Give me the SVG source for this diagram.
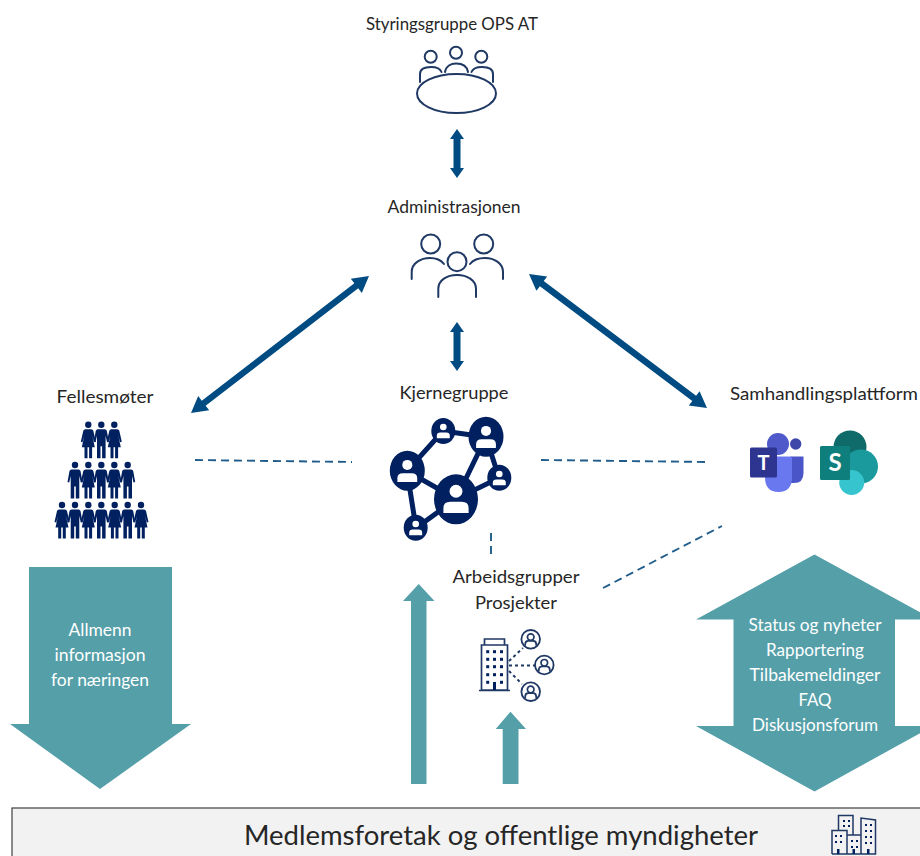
<svg xmlns="http://www.w3.org/2000/svg" width="920" height="856" viewBox="0 0 920 856">
<style>
text{font-family:Lato,"Open Sans","Liberation Sans",sans-serif;font-size:18px;fill:#262626;text-anchor:middle}
.w{fill:#fff}
.ln{fill:none;stroke:#1f3864;stroke-width:2;stroke-linecap:round}
.ln3{fill:none;stroke:#1f3864;stroke-width:1.7}
.teal{fill:#559fa9}
.dbl{fill:#004b82}
.dash{fill:none;stroke:#1f5c8b;stroke-width:1.9;stroke-dasharray:8 5}
.edge{stroke:#002060;stroke-width:5;fill:none}
.nv{fill:#002060}
</style>
<defs>
<g id="man" class="nv"><circle cx="0" cy="0" r="3.200"/><path d="M-3.500 4.500H3.500Q5 4.500 5.500 6L7.500 17L5.800 17.600L4.300 11V20.500L4.300 33.500H.8V21.500H-.8V33.500H-4.300V20.500L-4.300 11L-5.800 17.600L-7.500 17L-5.500 6Q-5 4.500-3.500 4.500Z"/></g>
<g id="wom" class="nv"><circle cx="0" cy="0" r="3.200"/><path d="M-3 4.500H3Q4.500 4.500 5 6L7.500 17L5.800 17.600L4 11L6.500 22.500H3.800V33.500H.8V22.500H-.8V33.500H-3.800V22.500H-6.500L-4 11L-5.800 17.600L-7.500 17L-5 6Q-4.500 4.500-3 4.500Z"/></g>
<g id="u"><circle cx="0" cy="-5.500" r="4.600" class="w"/><path class="w" d="M-9 10V6.500Q-9 2-4 2H4Q9 2 9 6.500V10Z"/></g>
<g id="cu"><circle r="9.300" fill="#fff" stroke="#1f3864" stroke-width="1.800"/><circle cy="-2.200" r="3.300" fill="none" stroke="#1f3864" stroke-width="1.700"/><path d="M-5.500 6.500V5Q-5.500 1.500-2.500 1.500H2.500Q5.500 1.500 5.500 5V6.500" fill="none" stroke="#1f3864" stroke-width="1.700"/></g>
</defs>
<g id="connectors">
<path class="dbl" d="M457 129L464 139H460.500V168H464L457 178L450 168H453.500V139H450Z"/>
<path class="dbl" d="M457 322L464 332H460.500V361H464L457 371L450 361H453.500V332H450Z"/>
<path class="dbl" d="M369 276L361.800 292.900L358.250 288.340L205.650 405.740L209.200 410.300L191 413L198.200 396.100L201.750 400.660L354.350 283.260L350.800 278.700Z"/>
<path class="dbl" d="M529 274L547.200 276.400L543.700 281L696.100 395.800L699.600 391.200L707 408L688.800 405.600L692.300 401L539.900 286.200L536.400 290.800Z"/>
<path class="dash" d="M195 460L352 462"/>
<path class="dash" d="M541 460L708 462"/>
<path class="dash" d="M603 588L722 526"/>
<path class="dash" d="M491 533V555"/>
</g>
<g id="n-styringsgruppe">
<text x="452" y="30" textLength="172" lengthAdjust="spacingAndGlyphs">Styringsgruppe OPS AT</text>
<circle class="ln" cx="430.700" cy="56.700" r="6"/><circle class="ln" cx="456" cy="52.700" r="6"/><circle class="ln" cx="481.300" cy="56.700" r="6"/>
<path class="ln" d="M420 82V74C420 69 425 67 431 67C436 67 440 68 441.500 72"/>
<path class="ln" d="M445 72C446 66 451 63.500 456 63.500C462 63.500 467 66 468 72"/>
<path class="ln" d="M493 82V74C493 69 488 67 482 67C477 67 473 68 471.500 72"/>
<ellipse class="ln" cx="456.500" cy="93.500" rx="39.500" ry="19.500"/>
</g>
<g id="n-administrasjonen">
<text x="454" y="213" textLength="133" lengthAdjust="spacingAndGlyphs">Administrasjonen</text>
<circle class="ln" cx="430.700" cy="244" r="9.500"/><circle class="ln" cx="483.700" cy="244" r="9.500"/><circle class="ln" cx="457" cy="261.700" r="9.500"/>
<path class="ln" d="M411.700 279V272C411.700 263 421 258 430 258C436 258 441 260 444 264"/>
<path class="ln" d="M503 279V272C503 263 494 258 485 258C479 258 473 260 470 264"/>
<path class="ln" d="M438.300 297V289C438.300 280 447 275 457 275C467 275 476 280 476 289V297"/>
</g>
<g id="n-fellesmoter">
<text x="105" y="403" textLength="97" lengthAdjust="spacingAndGlyphs">Fellesmøter</text>
<use href="#wom" x="88.300" y="424.700"/><use href="#man" x="101.300" y="424.700"/><use href="#wom" x="114.300" y="424.700"/>
<use href="#man" x="75" y="465"/><use href="#wom" x="88.300" y="465"/><use href="#man" x="101.300" y="465"/><use href="#wom" x="114.300" y="465"/><use href="#man" x="127.700" y="465"/>
<use href="#wom" x="62" y="505"/><use href="#man" x="75" y="505"/><use href="#wom" x="88.300" y="505"/><use href="#man" x="101.300" y="505"/><use href="#wom" x="114.700" y="505"/><use href="#man" x="127.700" y="505"/><use href="#wom" x="141" y="505"/>
</g>
<g id="n-kjernegruppe">
<text x="454" y="399" textLength="109" lengthAdjust="spacingAndGlyphs">Kjernegruppe</text>
<path class="edge" d="M443 431L486 437L499 478L456 499L407 471L443 431M486 437L456 499L416 528L407 471"/>
<ellipse class="nv" cx="456" cy="499.300" rx="22" ry="25"/>
<ellipse class="nv" cx="407.300" cy="470.700" rx="17.500" ry="20"/>
<ellipse class="nv" cx="486" cy="436.700" rx="17.500" ry="20"/>
<ellipse class="nv" cx="443.300" cy="431" rx="12" ry="13"/>
<ellipse class="nv" cx="499.300" cy="477.700" rx="12" ry="13"/>
<ellipse class="nv" cx="415.700" cy="527.700" rx="12" ry="13"/>
<use href="#u" transform="translate(456 499) scale(1.400)"/>
<use href="#u" transform="translate(407.300 471) scale(1.100)"/>
<use href="#u" transform="translate(486 437) scale(1.100)"/>
<use href="#u" transform="translate(443.300 431) scale(.72)"/>
<use href="#u" transform="translate(499.300 478) scale(.72)"/>
<use href="#u" transform="translate(415.700 528) scale(.72)"/>
</g>
<g id="n-samhandling">
<text x="824" y="400" textLength="188" lengthAdjust="spacingAndGlyphs">Samhandlingsplattform</text>
<circle cx="778" cy="444" r="11" fill="#5059c9"/>
<circle cx="795.700" cy="444" r="5.700" fill="#3f48a8"/>
<path d="M791 456.500H803.500V473Q803.500 483 794 483H785Z" fill="#4a55c8"/>
<path d="M765 456.500H792V477Q792 492 778.500 492Q765 492 765 477Z" fill="#6a78f0"/>
<rect x="750" y="447.500" width="27" height="30" rx="1.500" fill="#2d3590"/>
<text x="763.500" y="470" style="font-size:20px;fill:#fff;font-weight:700">T</text>
<circle cx="850" cy="447" r="16.500" fill="#0f6a6a"/>
<circle cx="861" cy="466.500" r="17" fill="#1a9a9c"/>
<circle cx="851.700" cy="482.500" r="12.500" fill="#36c4cf"/>
<rect x="820" y="446" width="30" height="34" rx="1.500" fill="#0f7f7d"/>
<text x="835" y="471" style="font-size:24px;fill:#fff;font-weight:700">S</text>
</g>
<g id="n-arbeidsgrupper">
<text x="516" y="583" textLength="127" lengthAdjust="spacingAndGlyphs">Arbeidsgrupper</text>
<text x="516" y="609" textLength="82" lengthAdjust="spacingAndGlyphs">Prosjekter</text>
<path d="M509 661L523 648M509 665.500H535M509 671L522 684" fill="none" stroke="#1f3864" stroke-width="2" stroke-dasharray="3 3"/>
<use href="#cu" x="530.700" y="639.300"/><use href="#cu" x="544.300" y="665"/><use href="#cu" x="530.700" y="691.700"/>
<path class="ln3" d="M481.500 645V690H507.500V645ZM484.500 645V639H504.500V645M479 690.500H510"/>
<rect x="486.200" y="650.200" width="3" height="3" class="nv"/><rect x="493" y="650.200" width="3" height="3" class="nv"/><rect x="500" y="650.200" width="3" height="3" class="nv"/>
<rect x="486.200" y="657.800" width="3" height="3" class="nv"/><rect x="493" y="657.800" width="3" height="3" class="nv"/><rect x="500" y="657.800" width="3" height="3" class="nv"/>
<rect x="486.200" y="665.200" width="3" height="3" class="nv"/><rect x="493" y="665.200" width="3" height="3" class="nv"/><rect x="500" y="665.200" width="3" height="3" class="nv"/>
<rect x="486.200" y="673.200" width="3" height="3" class="nv"/><rect x="493" y="673.200" width="3" height="3" class="nv"/><rect x="500" y="673.200" width="3" height="3" class="nv"/>
<rect x="486.200" y="680.800" width="3" height="3" class="nv"/><rect x="500" y="680.800" width="3" height="3" class="nv"/><rect x="493" y="682" width="3" height="8" class="nv"/>
</g>
<g id="n-allmenn">
<path class="teal" d="M29 567H172V724H191L100 789L10 724H29Z"/>
<text x="100" y="636" class="w" textLength="63" lengthAdjust="spacingAndGlyphs">Allmenn</text>
<text x="100" y="661" class="w" textLength="91" lengthAdjust="spacingAndGlyphs">informasjon</text>
<text x="100" y="686" class="w" textLength="98" lengthAdjust="spacingAndGlyphs">for næringen</text>
</g>
<g id="n-arrow-up-1"><path class="teal" d="M418.700 584L434.500 601H426.500V784H411V601H403Z"/></g>
<g id="n-arrow-up-2"><path class="teal" d="M510.500 711.700L526 729H518.500V784H502.700V729H495.700Z"/></g>
<g id="n-status">
<path class="teal" d="M814.500 554.500L933 619.500H895V726H933L814.500 791.500L696 726H733.500V619.500H696Z"/>
<text x="815" y="631" class="w" textLength="133" lengthAdjust="spacingAndGlyphs">Status og nyheter</text>
<text x="815" y="656" class="w" textLength="98" lengthAdjust="spacingAndGlyphs">Rapportering</text>
<text x="815" y="681" class="w" textLength="131" lengthAdjust="spacingAndGlyphs">Tilbakemeldinger</text>
<text x="815" y="706" class="w" textLength="33" lengthAdjust="spacingAndGlyphs">FAQ</text>
<text x="815" y="731" class="w" textLength="126" lengthAdjust="spacingAndGlyphs">Diskusjonsforum</text>
</g>
<g id="n-medlem">
<rect x="12" y="808" width="920" height="60" fill="#f2f2f2" stroke="#404040" stroke-width="1.200"/>
<text x="501" y="845" style="font-size:27px" textLength="514" lengthAdjust="spacingAndGlyphs">Medlemsforetak og offentlige myndigheter</text>
<path d="M838.500 830V815.500H853V835M832 854V830.500H847V835H861M847 854V835H861V854M861 835V818L875.500 820V854H861M832 854H875.500" fill="#f2f2f2" stroke="#1f3864" stroke-width="1.500"/>
<rect x="843" y="820" width="2" height="2" class="nv"/><rect x="848" y="820" width="2" height="2" class="nv"/><rect x="843" y="825" width="2" height="2" class="nv"/><rect x="848" y="825" width="2" height="2" class="nv"/>
<rect x="835" y="835" width="2" height="2" class="nv"/><rect x="840" y="835" width="2" height="2" class="nv"/><rect x="835" y="841" width="2" height="2" class="nv"/><rect x="840" y="841" width="2" height="2" class="nv"/>
<rect x="851" y="840" width="2" height="2" class="nv"/><rect x="856" y="840" width="2" height="2" class="nv"/><rect x="851" y="846" width="2" height="2" class="nv"/><rect x="856" y="846" width="2" height="2" class="nv"/>
<rect x="865" y="824" width="2" height="2" class="nv"/><rect x="870" y="824" width="2" height="2" class="nv"/><rect x="865" y="830" width="2" height="2" class="nv"/><rect x="870" y="830" width="2" height="2" class="nv"/><rect x="865" y="836" width="2" height="2" class="nv"/><rect x="870" y="836" width="2" height="2" class="nv"/><rect x="865" y="842" width="2" height="2" class="nv"/><rect x="870" y="842" width="2" height="2" class="nv"/>
<rect x="837" y="849" width="2.500" height="5" class="nv"/><rect x="852.500" y="849" width="2.500" height="5" class="nv"/><rect x="867" y="849" width="2.500" height="5" class="nv"/>
</g>
</svg>
